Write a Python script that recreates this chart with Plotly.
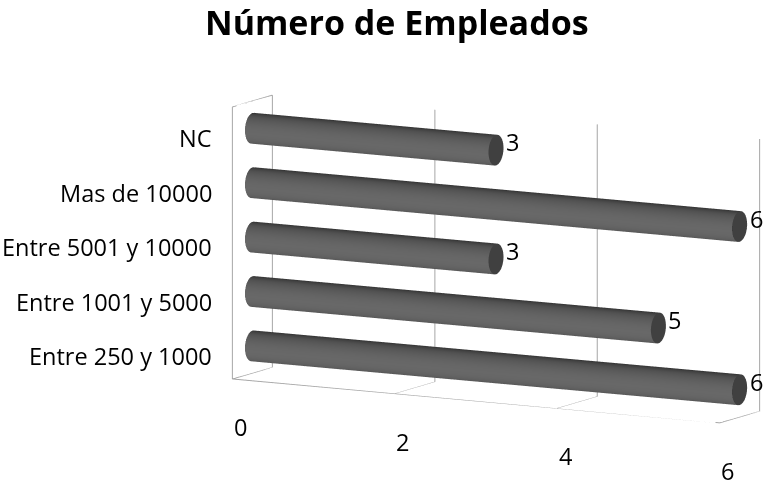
import numpy as np
import plotly.graph_objects as go

# Number of companies per employee-size bracket
categories = ["Entre 250 y 1000", "Entre 1001 y 5000", "Entre 5001 y 10000",
              "Mas de 10000", "NC"]
values = [6, 5, 3, 6, 3]
x_ticks = [0, 2, 4, 6]

FONT = "Open Sans"
X_RANGE = [0, 6]
Y_RANGE = [0, 1]
Z_RANGE = [-0.5, len(categories) - 0.5]
SCALE = 1.22
ASPECT = dict(x=2.02 * SCALE, y=0.3 * SCALE, z=1.0 * SCALE)

RADIUS = 0.28           # in category units (z)
DEPTH_MID = 0.5
# keep the cylinder cross-section circular despite different axis scales
z_unit = ASPECT["z"] / (Z_RANGE[1] - Z_RANGE[0])
y_unit = ASPECT["y"] / (Y_RANGE[1] - Y_RANGE[0])
RADIUS_Y = RADIUS * z_unit / y_unit

FLAT = dict(ambient=1, diffuse=0, specular=0, roughness=1, fresnel=0)

fig = go.Figure()

theta = np.linspace(0, 2 * np.pi, 90)
facing = np.sin(theta)   # 1 on the side turned to the viewer
vert = np.cos(theta)     # 1 at the top
light = np.clip(0.62 * facing - 0.12 * vert + 0.2, 0, 1)

for i, v in enumerate(values):
    u = np.array([0.0, float(v)])
    X = np.outer(np.ones_like(theta), u)
    Y = DEPTH_MID - RADIUS_Y * np.outer(np.sin(theta), np.ones_like(u))
    Z = i + RADIUS * np.outer(np.cos(theta), np.ones_like(u))
    S = np.outer(light, np.ones_like(u))
    fig.add_trace(go.Surface(
        x=X, y=Y, z=Z, surfacecolor=S, cmin=0, cmax=1,
        colorscale=[[0, "#2e2e2e"], [0.45, "#525252"], [0.8, "#666666"], [1, "#707070"]],
        showscale=False, hoverinfo="skip", lighting=FLAT,
    ))
    # flat end cap at the bar's value
    rr = np.array([0.0, 1.0])
    Xc = np.full((len(theta), 2), float(v))
    Yc = DEPTH_MID - RADIUS_Y * np.outer(np.sin(theta), rr)
    Zc = i + RADIUS * np.outer(np.cos(theta), rr)
    fig.add_trace(go.Surface(
        x=Xc, y=Yc, z=Zc, surfacecolor=np.zeros_like(Xc), cmin=0, cmax=1,
        colorscale=[[0, "#404040"], [1, "#404040"]], showscale=False,
        hoverinfo="skip", lighting=FLAT,
    ))

# frame edges of the walls and floor
edge = dict(mode="lines", line=dict(color="#a6a6a6", width=2),
            hoverinfo="skip", showlegend=False)
x0, x1 = X_RANGE
y0, y1 = Y_RANGE
z0, z1 = Z_RANGE
fig.add_trace(go.Scatter3d(x=[x0] * 4, y=[y1, y0, y0, y1], z=[z1, z1, z0, z0], **edge))
fig.add_trace(go.Scatter3d(x=[x0, x1, x1, x1], y=[y0, y0, y1, y1], z=[z0, z0, z0, z1], **edge))

annotations = []
for i, (cat, v) in enumerate(zip(categories, values)):
    annotations.append(dict(x=0, y=y0, z=i, text=cat, showarrow=False,
                            xanchor="right", xshift=-18, yshift=-4,
                            font=dict(family=FONT, size=23.5, color="#000")))
    annotations.append(dict(x=v, y=DEPTH_MID, z=i, text=str(v), showarrow=False,
                            xanchor="left", xshift=8, yshift=8,
                            font=dict(family=FONT, size=23.5, color="#000")))
for t in x_ticks:
    annotations.append(dict(x=t, y=y0, z=z0, text=str(t),
                            showarrow=False, xshift=8, yshift=-48,
                            font=dict(family=FONT, size=23.5, color="#000")))

axis_common = dict(showbackground=False, showticklabels=False, ticks="",
                   title=dict(text=""), showspikes=False, zeroline=False)
fig.update_layout(
    width=772, height=491,
    margin=dict(l=0, r=0, t=0, b=0),
    paper_bgcolor="white",
    showlegend=False,
    title=dict(text="<b>Número de Empleados</b>", x=0.514, xanchor="center",
               y=0.952, yanchor="middle",
               font=dict(family=FONT, size=34, color="#000")),
    scene=dict(
        domain=dict(x=[0.285, 1.0], y=[0.012, 0.932]),
        xaxis=dict(range=X_RANGE, tickvals=x_ticks, showgrid=True,
                   gridcolor="#a6a6a6", gridwidth=2, **axis_common),
        yaxis=dict(range=Y_RANGE, showgrid=False, **axis_common),
        zaxis=dict(range=Z_RANGE, showgrid=False, **axis_common),
        aspectmode="manual",
        aspectratio=ASPECT,
        camera=dict(eye=dict(x=0.72, y=-1.3, z=0.245),
                    center=dict(x=0, y=0, z=0),
                    up=dict(x=0, y=0, z=1),
                    projection=dict(type="orthographic")),
        annotations=annotations,
    ),
)

fig.write_html("out.html")
